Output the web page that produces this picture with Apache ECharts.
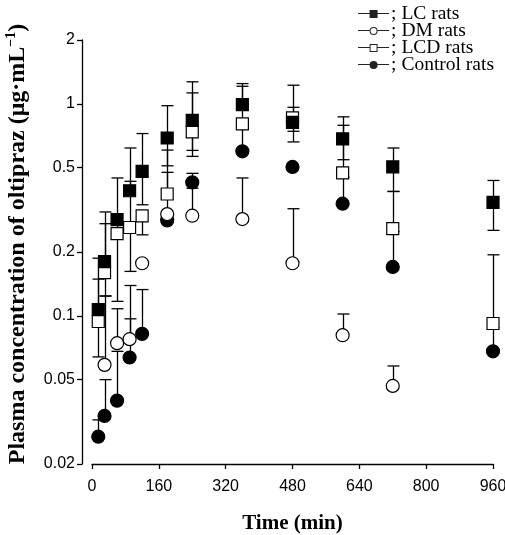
<!DOCTYPE html>
<html><head><meta charset="utf-8">
<script src="https://cdn.jsdelivr.net/npm/echarts@6/dist/echarts.min.js"></script>
<style>html,body{margin:0;padding:0;background:#fff}#c{width:505px;height:535px}</style>
</head><body><div id="c"></div>
<script>
// ---- data (values in µg/mL) ----
const times = [15, 30, 60, 90, 120, 180, 240, 360, 480, 600, 720, 960];
const xTicks = [0, 160, 320, 480, 640, 800, 960];
const yTicks = [0.02, 0.05, 0.1, 0.2, 0.5, 1, 2];

const lcMean = [0.107, 0.180, 0.284, 0.389, 0.480, 0.690, 0.836, 0.992, 0.818, 0.683, 0.504, 0.343];
const lcHi   = [0.187, 0.309, 0.447, 0.619, 0.724, 0.980, 1.27, 1.246, 0.963, 0.868, 0.619, 0.435];
const lcLo   = [0.064, 0.124, 0.117, null, 0.334, 0.510, 0.603, null, 0.661, 0.545, 0.386, 0.253];

const dmMean = [null, 0.0587, 0.0743, 0.0776, 0.177, 0.302, 0.2966, 0.286, 0.177, 0.081, 0.0467, null];
const dmHi   = [null, 0.124, 0.108, 0.139, null, 0.475, 0.40, 0.447, 0.320, 0.102, 0.058, null];
const dmLo   = [null, null, null, null, null, null, null, null, null, null, null, null];

const lcdMean = [0.094, 0.160, 0.244, 0.261, 0.296, 0.3755, 0.737, 0.804, 0.858, 0.472, 0.258, 0.092];
const lcdHi   = [0.149, 0.272, null, 0.431, null, 0.605, 1.126, 1.21, 1.224, 0.792, 0.386, 0.194];
const lcdLo   = [null, null, null, 0.162, 0.241, null, 0.565, null, 0.742, null, null, null];

const ctlMean = [0.0269, 0.0337, 0.0398, 0.0636, 0.0822, 0.282, 0.426, 0.597, 0.504, 0.338, 0.170, 0.068];
const ctlHi   = [0.0323, 0.050, 0.068, 0.0968, 0.133, null, 0.47, 0.78, null, 0.45, 0.25, 0.088];
const ctlLo   = [null, null, null, null, null, null, null, null, null, null, null, null];

// ---- helpers ----
const L = v => Math.log10(v);
const BLACK = '#000';

function pts(mean) {
  return times.map((t, i) => mean[i] == null ? null : [t, L(mean[i])]).filter(Boolean);
}
function errSeries(name, mean, hi, lo) {
  const data = times.map((t, i) => mean[i] == null ? null :
    [t, L(mean[i]), hi[i] == null ? NaN : L(hi[i]), lo[i] == null ? NaN : L(lo[i])]).filter(Boolean);
  return {
    type: 'custom', name: name + ' err', silent: true, z: 1, data,
    encode: { x: 0, y: 1 },
    renderItem(params, api) {
      const x = api.value(0), m = api.value(1), h = api.value(2), l = api.value(3);
      const pm = api.coord([x, m]);
      const cx = Math.round(pm[0]) + 0.5;
      const cw = 6;
      const st = { stroke: BLACK, lineWidth: 1.3 };
      const ch = [];
      [h, l].forEach(v => {
        if (v == null || isNaN(v)) return;
        const p = api.coord([x, v]);
        ch.push({ type: 'line', shape: { x1: cx, y1: pm[1], x2: cx, y2: p[1] }, style: st });
        ch.push({ type: 'line', shape: { x1: cx - cw, y1: p[1], x2: cx + cw, y2: p[1] }, style: st });
      });
      return { type: 'group', children: ch };
    }
  };
}
function scat(name, mean, symbol, size, fill, z) {
  return {
    type: 'scatter', name, data: pts(mean), symbol, symbolSize: size, z,
    itemStyle: { color: fill, borderColor: BLACK, borderWidth: 1.2, opacity: 1 },
    emphasis: { disabled: true }
  };
}

const icons = {
  fsq: 'path://M0,3H11.5V4H0Z M11.5,0H19.5V8H11.5Z M19.5,3H31V4H19.5Z',
  osq: 'path://M0,3H11.5V4H0Z M11.5,0H19.5V8H11.5Z M12.5,1V7H18.5V1Z M19.5,3H31V4H19.5Z',
  fci: 'path://M0,3H11.5V4H0Z M11.5,4A4,4 0 1,1 19.5,4A4,4 0 1,1 11.5,4Z M19.5,3H31V4H19.5Z',
  oci: 'path://M0,3H11.5V4H0Z M11.5,4A4,4 0 1,1 19.5,4A4,4 0 1,1 11.5,4Z M12.5,4A3,3 0 1,0 18.5,4A3,3 0 1,0 12.5,4Z M19.5,3H31V4H19.5Z'
};
const legIS = { color: '#222', borderWidth: 0 };

const chart = echarts.init(document.getElementById('c'), null, { renderer: 'canvas' });
chart.setOption({
  animation: false,
  backgroundColor: '#fff',
  grid: { left: 92, right: 12, top: 40, bottom: 71, containLabel: false, outerBoundsMode: 'none' },
  legend: {
    orient: 'vertical', right: 6, top: -1, itemWidth: 31, itemHeight: 8, itemGap: -3,
    selectedMode: false,
    formatter: '; {name}',
    textStyle: { fontFamily: 'Liberation Serif', fontSize: 19.5, lineHeight: 17.5, color: BLACK, padding: [0, 0, 0, -3] },
    data: [
      { name: 'LC rats', icon: icons.fsq, itemStyle: legIS },
      { name: 'DM rats', icon: icons.oci, itemStyle: legIS },
      { name: 'LCD rats', icon: icons.osq, itemStyle: legIS },
      { name: 'Control rats', icon: icons.fci, itemStyle: legIS }
    ]
  },
  xAxis: {
    type: 'value', min: xTicks[0], max: xTicks[xTicks.length - 1], interval: 160,
    name: 'Time (min)', nameLocation: 'middle', nameGap: 49,
    nameTextStyle: { fontFamily: 'Liberation Serif', fontWeight: 'bold', fontSize: 21, color: BLACK },
    axisLine: { onZero: false, lineStyle: { color: BLACK, width: 1.3 } },
    axisTick: { inside: false, length: 5, lineStyle: { color: BLACK, width: 1.3 } },
    axisLabel: { color: BLACK, fontFamily: 'Liberation Sans', fontSize: 16, margin: 15 },
    splitLine: { show: false }
  },
  yAxis: {
    type: 'value', min: L(yTicks[0]), max: L(yTicks[yTicks.length - 1]), offset: 10,
    name: '{b|Plasma concentration of oltipraz (μg·mL}{s|−1}{b|)}',
    nameLocation: 'middle', nameRotate: 90, nameGap: 51,
    nameTextStyle: {
      padding: [0, 0, 0, 16],
      rich: {
        b: { fontFamily: 'Liberation Serif', fontWeight: 'bold', fontSize: 24, color: BLACK, lineHeight: 27 },
        s: { fontFamily: 'Liberation Serif', fontWeight: 'bold', fontSize: 14, color: BLACK, verticalAlign: 'top', lineHeight: 27, padding: [0, 0, 10, 0] }
      }
    },
    axisLine: { onZero: false, lineStyle: { color: BLACK, width: 1.3 } },
    axisTick: { inside: false, length: 5, customValues: yTicks.map(L), lineStyle: { color: BLACK, width: 1.3 } },
    axisLabel: {
      customValues: yTicks.map(L), color: BLACK, fontFamily: 'Liberation Sans', fontSize: 16, margin: 7,
      formatter: v => String(parseFloat(Math.pow(10, v).toPrecision(3)))
    },
    splitLine: { show: false }
  },
  series: [
    errSeries('Control rats', ctlMean, ctlHi, ctlLo),
    errSeries('LCD rats', lcdMean, lcdHi, lcdLo),
    errSeries('LC rats', lcMean, lcHi, lcLo),
    errSeries('DM rats', dmMean, dmHi, dmLo),
    scat('Control rats', ctlMean, 'circle', 13, BLACK, 2),
    scat('LCD rats', lcdMean, 'rect', 12, '#fff', 3),
    scat('LC rats', lcMean, 'rect', 12, BLACK, 4),
    scat('DM rats', dmMean, 'circle', 13, '#fff', 5)
  ]
});
</script>
</body></html>
